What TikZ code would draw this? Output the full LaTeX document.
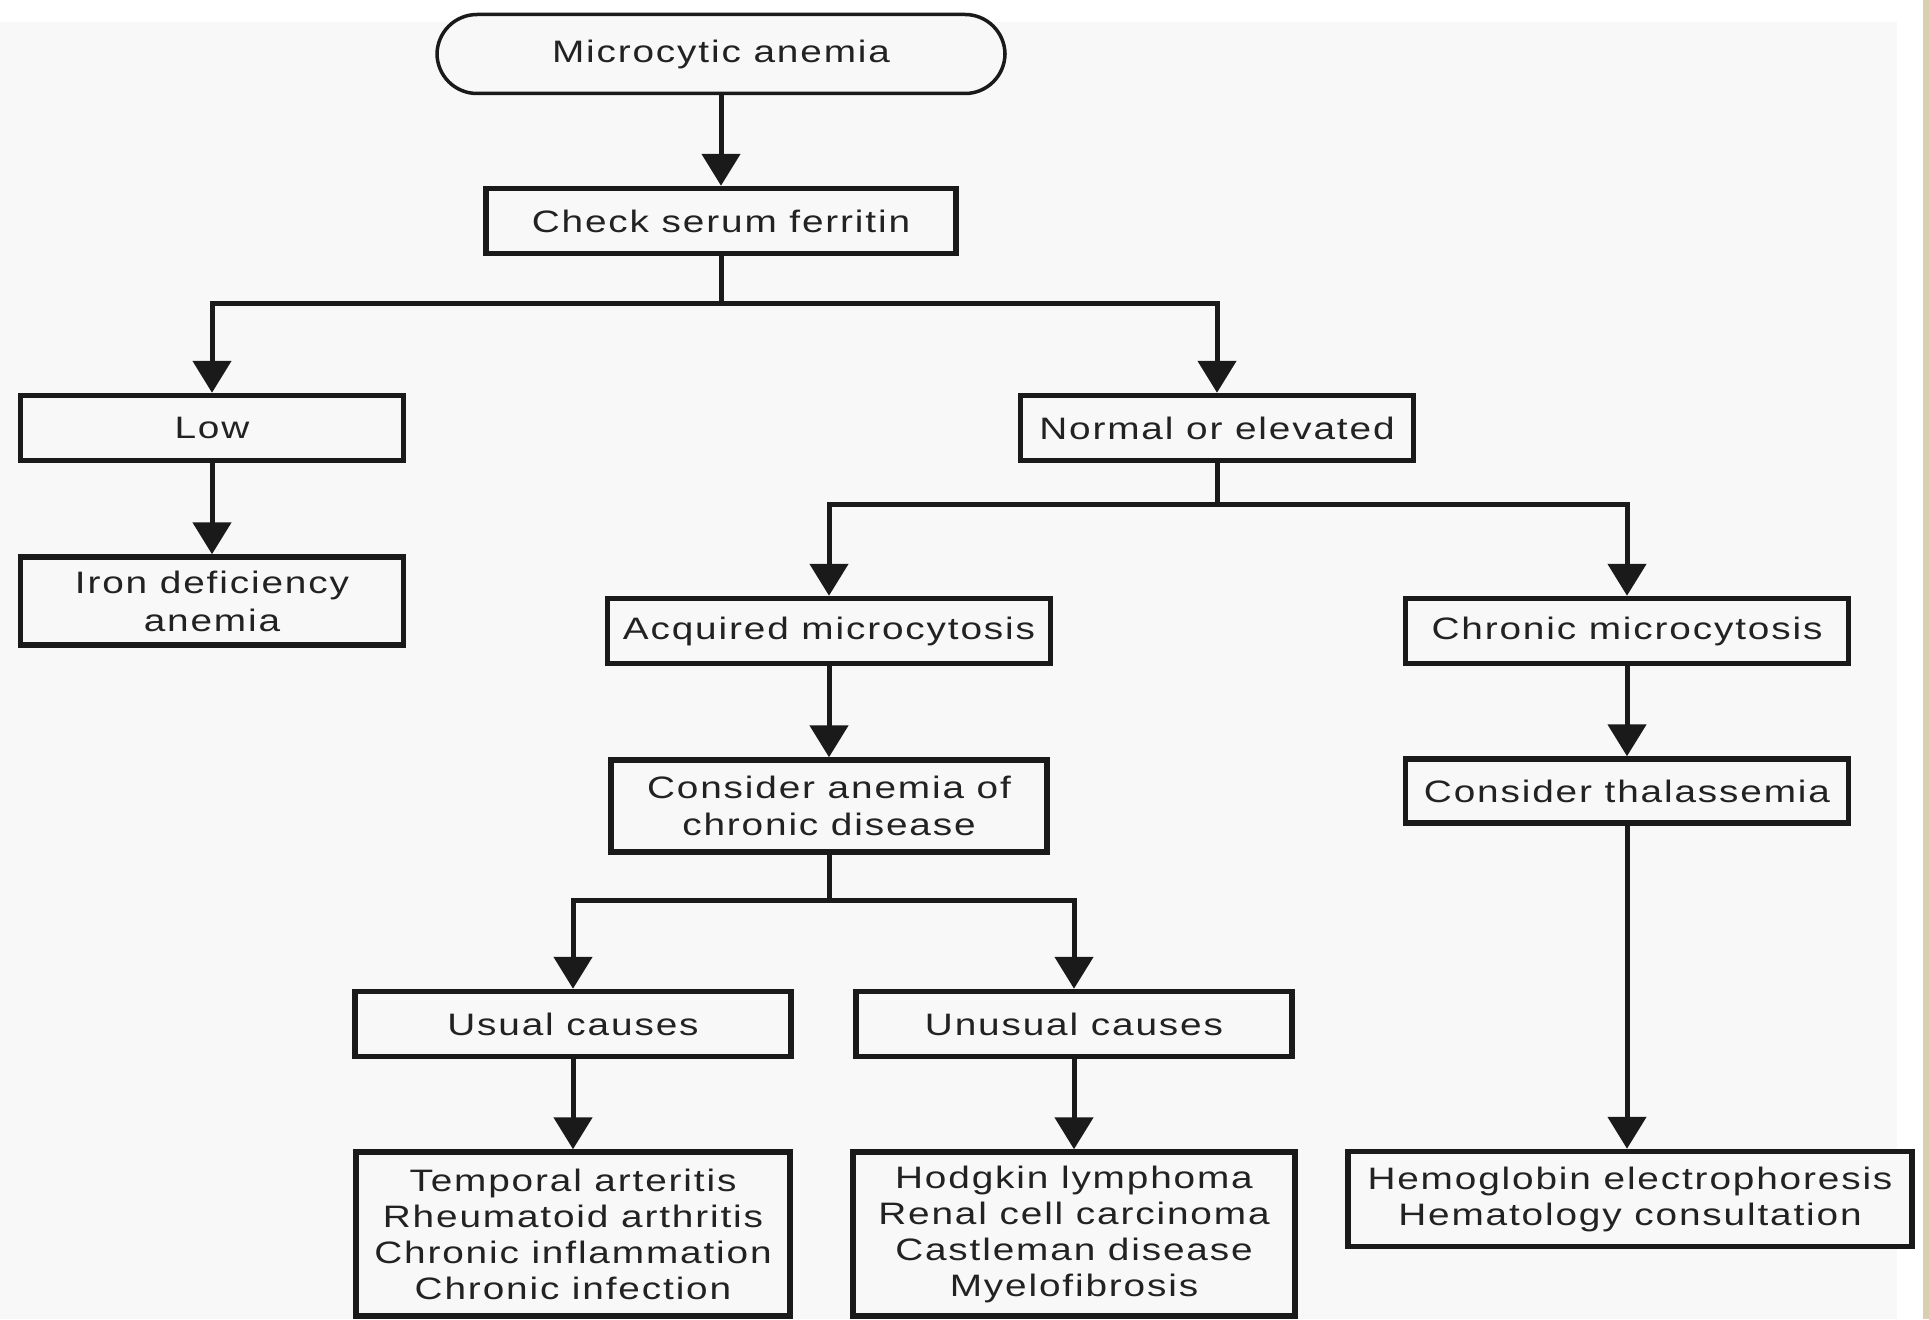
\documentclass[tikz,border=0pt]{standalone}
\usepackage{fontspec}
\setmainfont{Liberation Sans}[FakeStretch=1.25,LetterSpace=6]
\usetikzlibrary{arrows.meta}
\definecolor{bgray}{HTML}{F8F8F8}
\definecolor{edgetan}{HTML}{D6D0AE}
\definecolor{ink}{HTML}{1A1A1A}
\definecolor{txt}{HTML}{222222}
\begin{document}
\begin{tikzpicture}[x=1pt,y=-1pt,
  txtfont/.style={font=\fontsize{31}{36}\selectfont, text=txt, align=center},
  box/.style={txtfont, draw=ink, line width=5.5pt, fill=bgray, inner sep=0pt},
  startbox/.style={txtfont, draw=ink, line width=3.5pt, fill=bgray, inner sep=0pt, rounded corners=40pt},
  link/.style={draw=ink, line width=5pt},
  arr/.style={link, -{Triangle[width=38pt,length=32pt]}}
]
% page background
\fill[white] (0,0) rectangle (1929,1319);
\fill[bgray] (0,22) rectangle (1897,1319);
\fill[edgetan] (1923,0) rectangle (1929,1319);
\useasboundingbox (0,0) rectangle (1929,1319);

% nodes
\node[startbox, minimum width=568, minimum height=79] (ma) at (721,54) {Microcytic anemia};
\node[box, minimum width=470, minimum height=65] (csf) at (721,221) {Check serum ferritin};
\node[box, minimum width=383, minimum height=65] (low) at (212,428) {Low};
\node[box, minimum width=383, minimum height=88, font=\fontsize{31}{38}\selectfont] (ida) at (212,601) {Iron deficiency\\anemia};
\node[box, minimum width=393, minimum height=65] (noe) at (1217,428) {Normal or elevated};
\node[box, minimum width=443, minimum height=65] (acq) at (829,631) {Acquired microcytosis};
\node[box, minimum width=436, minimum height=92, font=\fontsize{31}{37}\selectfont] (cacd) at (829,806) {Consider anemia of\\chronic disease};
\node[box, minimum width=436, minimum height=65] (usual) at (573,1024) {Usual causes};
\node[box, minimum width=436, minimum height=65] (unusual) at (1074,1024) {Unusual causes};
\node[box, minimum width=434, minimum height=164] (ulist) at (573,1234)
  {Temporal arteritis\\Rheumatoid arthritis\\Chronic inflammation\\Chronic infection};
\node[box, minimum width=442, minimum height=164] (unlist) at (1074,1234)
  {Hodgkin lymphoma\\Renal cell carcinoma\\Castleman disease\\Myelofibrosis};
\node[box, minimum width=443, minimum height=65] (chr) at (1627,631) {Chronic microcytosis};
\node[box, minimum width=443, minimum height=64] (thal) at (1627,791) {Consider thalassemia};
\node[box, minimum width=564, minimum height=95] (hemo) at (1630,1199)
  {Hemoglobin electrophoresis\\Hematology consultation};

% connectors
\draw[arr] (ma) -- (csf);
\draw[link] (csf.south) -- ++(0,47) coordinate (b1);
\draw[arr] (b1) -| (low.north);
\draw[arr] (b1) -| (noe.north);
\draw[arr] (low) -- (ida);
\draw[link] (noe.south) -- ++(0,41) coordinate (b2);
\draw[arr] (b2) -| (acq.north);
\draw[arr] (b2) -| (chr.north);
\draw[arr] (acq) -- (cacd);
\draw[link] (cacd.south) -- ++(0,46) coordinate (b3);
\draw[arr] (b3) -| (usual.north);
\draw[arr] (b3) -| (unusual.north);
\draw[arr] (usual) -- (ulist);
\draw[arr] (unusual) -- (unlist);
\draw[arr] (chr) -- (thal);
\draw[arr] (thal.south) -- (thal.south |- hemo.north);
\end{tikzpicture}
\end{document}
